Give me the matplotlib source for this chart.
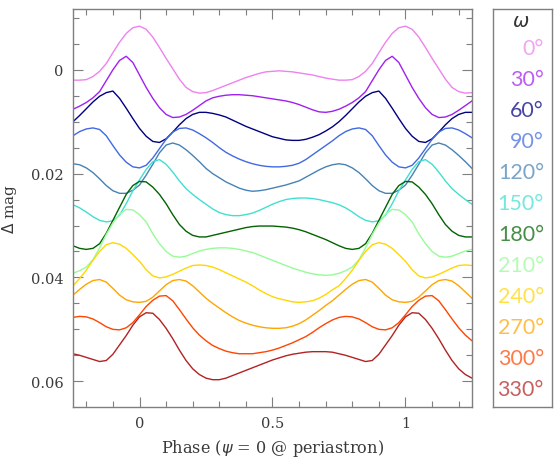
import numpy as np
import matplotlib
matplotlib.use("Agg")
import matplotlib.pyplot as plt
from matplotlib.ticker import MultipleLocator, FuncFormatter

# phase grid of the readings (one orbit, repeats with period 1)
phase = np.arange(0, 1, 0.025)

omega = [0, 30, 60, 90, 120, 150, 180, 210, 240, 270, 300, 330]
farben = ["violet", "#a020f0", "navy", "royalblue", "steelblue", "turquoise",
          "darkgreen", "palegreen", "gold", "orange", "orangered", "firebrick"]

dm_000 = [-0.0084, -0.0078, -0.0063, -0.0043, -0.0022, -0.0002, 0.0018, 0.0034,
          0.0042, 0.0045, 0.0044, 0.0040, 0.0035, 0.0030, 0.0025, 0.0020,
          0.0015, 0.0011, 0.0007, 0.0004, 0.0003, 0.0002, 0.0003, 0.0004,
          0.0006, 0.0008, 0.0010, 0.0013, 0.0016, 0.0018, 0.0020, 0.0020,
          0.0019, 0.0013, 0.0003, -0.0012, -0.0033, -0.0053, -0.0070, -0.0081]
dm_030 = [0.0010, 0.0034, 0.0055, 0.0073, 0.0086, 0.0092, 0.0091, 0.0086,
          0.0078, 0.0069, 0.0060, 0.0054, 0.0051, 0.0049, 0.0048, 0.0048,
          0.0049, 0.0050, 0.0052, 0.0054, 0.0056, 0.0058, 0.0060, 0.0063,
          0.0067, 0.0072, 0.0077, 0.0081, 0.0082, 0.0080, 0.0076, 0.0070,
          0.0063, 0.0054, 0.0042, 0.0021, 0.0000, -0.0018, -0.0026, -0.0014]
dm_060 = [0.0113, 0.0128, 0.0138, 0.0140, 0.0133, 0.0120, 0.0106, 0.0094,
          0.0086, 0.0082, 0.0082, 0.0084, 0.0087, 0.0091, 0.0097, 0.0103,
          0.0109, 0.0114, 0.0119, 0.0124, 0.0129, 0.0132, 0.0135, 0.0136,
          0.0136, 0.0134, 0.0130, 0.0125, 0.0118, 0.0110, 0.0100, 0.0088,
          0.0075, 0.0062, 0.0051, 0.0044, 0.0041, 0.0055, 0.0074, 0.0094]
dm_090 = [0.0189, 0.0184, 0.0170, 0.0152, 0.0134, 0.0120, 0.0113, 0.0112,
          0.0116, 0.0123, 0.0131, 0.0140, 0.0150, 0.0159, 0.0166, 0.0172,
          0.0177, 0.0181, 0.0184, 0.0186, 0.0187, 0.0187, 0.0186, 0.0184,
          0.0180, 0.0173, 0.0164, 0.0155, 0.0146, 0.0137, 0.0127, 0.0119,
          0.0114, 0.0112, 0.0115, 0.0127, 0.0146, 0.0164, 0.0178, 0.0187]
dm_120 = [0.0222, 0.0203, 0.0182, 0.0160, 0.0145, 0.0141, 0.0145, 0.0154,
          0.0165, 0.0177, 0.0190, 0.0200, 0.0208, 0.0216, 0.0222, 0.0228,
          0.0232, 0.0234, 0.0233, 0.0231, 0.0228, 0.0225, 0.0222, 0.0218,
          0.0214, 0.0207, 0.0200, 0.0193, 0.0187, 0.0183, 0.0181, 0.0183,
          0.0189, 0.0198, 0.0210, 0.0223, 0.0233, 0.0238, 0.0238, 0.0232]
dm_150 = [0.0212, 0.0192, 0.0177, 0.0173, 0.0182, 0.0197, 0.0214, 0.0229,
          0.0240, 0.0250, 0.0259, 0.0268, 0.0275, 0.0279, 0.0281, 0.0281,
          0.0279, 0.0276, 0.0271, 0.0265, 0.0259, 0.0254, 0.0250, 0.0248,
          0.0247, 0.0247, 0.0248, 0.0250, 0.0253, 0.0256, 0.0260, 0.0266,
          0.0274, 0.0283, 0.0290, 0.0293, 0.0291, 0.0280, 0.0258, 0.0233]
dm_180 = [0.0215, 0.0216, 0.0226, 0.0240, 0.0258, 0.0279, 0.0298, 0.0311,
          0.0319, 0.0322, 0.0322, 0.0319, 0.0316, 0.0313, 0.0310, 0.0307,
          0.0304, 0.0302, 0.0301, 0.0301, 0.0301, 0.0302, 0.0303, 0.0305,
          0.0308, 0.0312, 0.0317, 0.0322, 0.0327, 0.0333, 0.0339, 0.0344,
          0.0346, 0.0344, 0.0335, 0.0315, 0.0290, 0.0265, 0.0240, 0.0223]
dm_210 = [0.0279, 0.0293, 0.0316, 0.0335, 0.0350, 0.0359, 0.0361, 0.0359,
          0.0354, 0.0349, 0.0346, 0.0344, 0.0343, 0.0343, 0.0344, 0.0346,
          0.0349, 0.0352, 0.0357, 0.0362, 0.0367, 0.0372, 0.0377, 0.0382,
          0.0386, 0.0390, 0.0393, 0.0395, 0.0396, 0.0395, 0.0392, 0.0387,
          0.0380, 0.0366, 0.0343, 0.0317, 0.0295, 0.0278, 0.0269, 0.0270]
dm_240 = [0.0369, 0.0385, 0.0397, 0.0401, 0.0399, 0.0394, 0.0388, 0.0382,
          0.0377, 0.0376, 0.0377, 0.0380, 0.0385, 0.0391, 0.0397, 0.0403,
          0.0409, 0.0416, 0.0424, 0.0431, 0.0437, 0.0441, 0.0444, 0.0447,
          0.0448, 0.0447, 0.0445, 0.0440, 0.0433, 0.0424, 0.0416, 0.0402,
          0.0386, 0.0367, 0.0350, 0.0337, 0.0333, 0.0336, 0.0344, 0.0356]
dm_270 = [0.0448, 0.0446, 0.0438, 0.0426, 0.0414, 0.0406, 0.0404, 0.0407,
          0.0416, 0.0428, 0.0440, 0.0450, 0.0459, 0.0468, 0.0476, 0.0483,
          0.0488, 0.0492, 0.0495, 0.0497, 0.0498, 0.0498, 0.0497, 0.0494,
          0.0489, 0.0482, 0.0473, 0.0464, 0.0454, 0.0445, 0.0434, 0.0423,
          0.0413, 0.0406, 0.0404, 0.0409, 0.0421, 0.0434, 0.0443, 0.0447]
dm_300 = [0.0472, 0.0456, 0.0444, 0.0436, 0.0435, 0.0445, 0.0462, 0.0480,
          0.0497, 0.0511, 0.0522, 0.0531, 0.0537, 0.0542, 0.0545, 0.0547,
          0.0547, 0.0547, 0.0545, 0.0543, 0.0540, 0.0536, 0.0531, 0.0526,
          0.0520, 0.0514, 0.0506, 0.0497, 0.0489, 0.0482, 0.0477, 0.0475,
          0.0476, 0.0480, 0.0487, 0.0495, 0.0500, 0.0501, 0.0497, 0.0487]
dm_330 = [0.0476, 0.0468, 0.0469, 0.0481, 0.0498, 0.0518, 0.0540, 0.0560,
          0.0576, 0.0587, 0.0594, 0.0597, 0.0597, 0.0594, 0.0589, 0.0584,
          0.0579, 0.0574, 0.0569, 0.0564, 0.0559, 0.0555, 0.0551, 0.0548,
          0.0546, 0.0544, 0.0543, 0.0543, 0.0543, 0.0544, 0.0547, 0.0550,
          0.0554, 0.0558, 0.0562, 0.0560, 0.0548, 0.0530, 0.0512, 0.0492]

kurven = [dm_000, dm_030, dm_060, dm_090, dm_120, dm_150,
          dm_180, dm_210, dm_240, dm_270, dm_300, dm_330]

grau = "#7f7f7f"
fig = plt.figure(figsize=(5.56, 4.60), dpi=100)
ax = fig.add_axes([0.1313, 0.1137, 0.7176, 0.8656])

# one orbit repeated, so phases -0.25 .. 1.25 can be shown
x = np.concatenate([phase - 1, phase, phase + 1, [2.0]])
for werte, farbe in zip(kurven, farben):
    y = np.concatenate([np.tile(werte, 3), werte[:1]])
    ax.plot(x, y, color=farbe, lw=1.0)

ax.set_xlim(-0.25, 1.25)
ax.set_ylim(0.0649, -0.0118)
ax.xaxis.set_major_locator(MultipleLocator(0.5))
ax.xaxis.set_minor_locator(MultipleLocator(0.1))
ax.yaxis.set_major_locator(MultipleLocator(0.02))
ax.yaxis.set_minor_locator(MultipleLocator(0.005))
fmt = FuncFormatter(lambda v, pos: "%g" % round(v, 4))
ax.xaxis.set_major_formatter(fmt)
ax.yaxis.set_major_formatter(fmt)
ax.tick_params(which="both", direction="in", top=True, right=True,
               color=grau, labelcolor="#3a3a3a", labelsize=10.5)
ax.tick_params(which="major", length=7.5, width=0.8, pad=7)
ax.tick_params(which="minor", length=4, width=0.8)
for tl in ax.get_xticklabels() + ax.get_yticklabels():
    tl.set_family("DejaVu Serif")
for s in ax.spines.values():
    s.set_color(grau)
    s.set_linewidth(1.0)

ax.set_xlabel("Phase ($\\psi$ = 0 @ periastron)", family="DejaVu Serif",
              fontsize=11.6, color="#3a3a3a", labelpad=5)
ax.set_ylabel("$\\Delta$ mag", family="DejaVu Serif", fontsize=11,
              color="#3a3a3a", labelpad=8)

# colour key as separate box
lg = fig.add_axes([0.886, 0.1137, 0.1073, 0.8656])
lg.set_xticks([])
lg.set_yticks([])
for s in lg.spines.values():
    s.set_color(grau)
    s.set_linewidth(1.0)
lg.set_xlim(0, 1)
lg.set_ylim(400, 0)
lg.text(0.47, 12, "$\\omega$", ha="center", va="center", fontsize=14, color="#333333")
for i, (w, farbe) in enumerate(zip(omega, farben)):
    lg.text(0.86, 40 + 31.1 * i, "%d\u00b0" % w, ha="right", va="center",
            family=["Lato", "DejaVu Sans"], fontweight="normal",
            fontsize=15.5, color=farbe, alpha=0.72)

fig.savefig("out.png", dpi=100)
